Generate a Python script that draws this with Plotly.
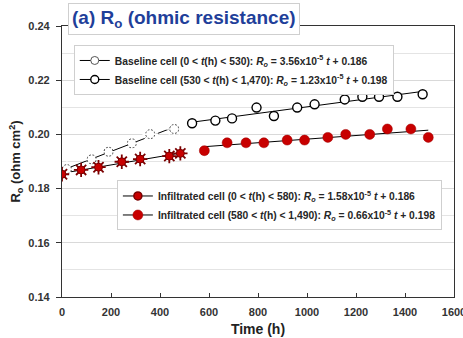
import numpy as np
import plotly.graph_objects as go

# Baseline cell, early period (0 < t < 530 h)
base1_t = [20, 121, 190, 285, 360, 458]
base1_r = [0.1872, 0.1908, 0.1936, 0.1967, 0.2001, 0.2020]
# Baseline cell, later period (530 < t < 1470 h)
base2_t = [531, 626, 694, 794, 865, 960, 1031, 1154, 1226, 1294, 1369, 1472]
base2_r = [0.2041, 0.2051, 0.2059, 0.2099, 0.2068, 0.2099, 0.2111, 0.2129,
           0.2139, 0.2139, 0.2139, 0.2148]
# Infiltrated cell, early period (0 < t < 580 h)
inf1_t = [0, 78, 149, 244, 319, 438, 483]
inf1_r = [0.1853, 0.1869, 0.1879, 0.1899, 0.1909, 0.1920, 0.1930]
# Infiltrated cell, later period (580 < t < 1490 h)
inf2_t = [581, 674, 751, 824, 919, 990, 1085, 1158, 1256, 1328, 1424, 1495]
inf2_r = [0.1940, 0.1969, 0.1969, 0.1969, 0.1979, 0.1979, 0.1989, 0.2000,
          0.2000, 0.2020, 0.2020, 0.1989]

legend_labels = [
    "Baseline cell (0 &lt; <i>t</i>(h) &lt; 530): <i>R<sub>o</sub></i> = 3.56x10<sup>-5</sup> <i>t</i> + 0.186",
    "Baseline cell (530 &lt; <i>t</i>(h) &lt; 1,470): <i>R<sub>o</sub></i> = 1.23x10<sup>-5</sup> <i>t</i> + 0.198",
    "Infiltrated cell (0 &lt; <i>t</i>(h) &lt; 580): <i>R<sub>o</sub></i> = 1.58x10<sup>-5</sup> <i>t</i> + 0.186",
    "Infiltrated cell (580 &lt; <i>t</i>(h) &lt; 1,490): <i>R<sub>o</sub></i> = 0.66x10<sup>-5</sup> <i>t</i> + 0.198",
]

RED = "#c80000"
DARKRED = "#7a0000"

fig = go.Figure()


def trend(t, r):
    k, b = np.polyfit(t, r, 1)
    tt = np.array([min(t), max(t)])
    return tt, k * tt + b


# linear trend lines
for t, r in [(base1_t, base1_r), (base2_t, base2_r), (inf1_t, inf1_r), (inf2_t, inf2_r)]:
    tt, rr = trend(t, r)
    fig.add_trace(go.Scatter(x=tt, y=rr, mode="lines", line=dict(color="black", width=1),
                             showlegend=False, hoverinfo="skip"))

# baseline early: dashed-outline open circles (outline broken by a white asterisk)
fig.add_trace(go.Scatter(x=base1_t, y=base1_r, mode="markers", showlegend=False,
                         marker=dict(symbol="circle", size=9, color="white",
                                     line=dict(color="#444444", width=1))))
fig.add_trace(go.Scatter(x=base1_t, y=base1_r, mode="markers", showlegend=False,
                         marker=dict(symbol="asterisk", size=13, color="white",
                                     line=dict(color="white", width=1.6))))
# baseline later: open circles
fig.add_trace(go.Scatter(x=base2_t, y=base2_r, mode="markers", showlegend=False,
                         marker=dict(symbol="circle", size=9, color="white",
                                     line=dict(color="black", width=1.4))))
# infiltrated early: red spiky markers
fig.add_trace(go.Scatter(x=inf1_t, y=inf1_r, mode="markers", showlegend=False,
                         marker=dict(symbol="asterisk", size=12, color=DARKRED,
                                     line=dict(color=DARKRED, width=1.8))))
fig.add_trace(go.Scatter(x=inf1_t, y=inf1_r, mode="markers", showlegend=False,
                         marker=dict(symbol="circle", size=8, color=RED,
                                     line=dict(color=DARKRED, width=1))))
# infiltrated later: red filled circles
fig.add_trace(go.Scatter(x=inf2_t, y=inf2_r, mode="markers", showlegend=False,
                         marker=dict(symbol="circle", size=10, color=RED,
                                     line=dict(color="#a00000", width=0.5))))

# legend entries
legend_styles = [
    ("legend", dict(symbol="circle", size=8, color="white", line=dict(color="#555555", width=1))),
    ("legend", dict(symbol="circle", size=8, color="white", line=dict(color="black", width=1.4))),
    ("legend2", dict(symbol="circle", size=8, color=RED, line=dict(color=DARKRED, width=1.5))),
    ("legend2", dict(symbol="circle", size=10, color=RED, line=dict(color="#a00000", width=0.5))),
]
for label, (lg, mk) in zip(legend_labels, legend_styles):
    fig.add_trace(go.Scatter(x=[None], y=[None], mode="lines+markers", name=label,
                             legend=lg, line=dict(color="black", width=1), marker=mk))

legend_common = dict(
    bgcolor="white", bordercolor="#cfcfcf", borderwidth=1,
    font=dict(family="Liberation Sans, Arial", size=10.3, color="#262626", weight="bold"),
    itemwidth=30, tracegroupgap=0, xanchor="left", yanchor="top",
)

fig.update_layout(
    width=463, height=338,
    margin=dict(l=62, r=9, t=26, b=41, autoexpand=False),
    paper_bgcolor="white", plot_bgcolor="white",
    font=dict(family="Liberation Sans, Arial", color="#333333"),
    legend=dict(x=0.03, y=0.93, **legend_common),
    legend2=dict(x=0.14, y=0.43, **legend_common),
    xaxis=dict(
        range=[0, 1600], dtick=200, tick0=0,
        showline=True, linecolor="#333333", linewidth=1.2, mirror=True,
        ticks="inside", ticklen=4, tickcolor="#333333", ticklabeloverflow="allow",
        ticklabelstandoff=5,
        showgrid=False, zeroline=False,
        tickfont=dict(size=11, family="Liberation Sans, Arial", color="#333333", weight="bold"),
        title=dict(text="Time (h)", standoff=6,
                   font=dict(size=14, family="Liberation Sans, Arial", color="#222222", weight="bold")),
    ),
    yaxis=dict(
        range=[0.14, 0.24], dtick=0.02, tick0=0.14, tickformat=".2f",
        showline=True, linecolor="#333333", linewidth=1.2, mirror=True,
        ticks="outside", ticklen=5, tickcolor="#333333", ticklabelstandoff=4,
        showgrid=True, gridcolor="#d9d9d9", gridwidth=1, zeroline=False,
        minor=dict(dtick=0.01, showgrid=True, gridcolor="#e4e4e4", gridwidth=1),
        tickfont=dict(size=11, family="Liberation Sans, Arial", color="#333333", weight="bold"),
        title=dict(text="R<sub>o</sub> (ohm cm<sup>2</sup>)", standoff=4,
                   font=dict(size=13, family="Liberation Sans, Arial", color="#222222", weight="bold")),
    ),
    annotations=[dict(
        text="(a) R<sub>o</sub> (ohmic resistance)",
        xref="paper", yref="paper", x=0.016, y=1.085, xanchor="left", yanchor="top",
        showarrow=False, bgcolor="white", bordercolor="#cfcfcf", borderwidth=1, borderpad=3,
        font=dict(size=19, family="Liberation Sans, Arial", color="#1f3f9a", weight="bold"),
    )],
)

fig.write_html("out.html")
